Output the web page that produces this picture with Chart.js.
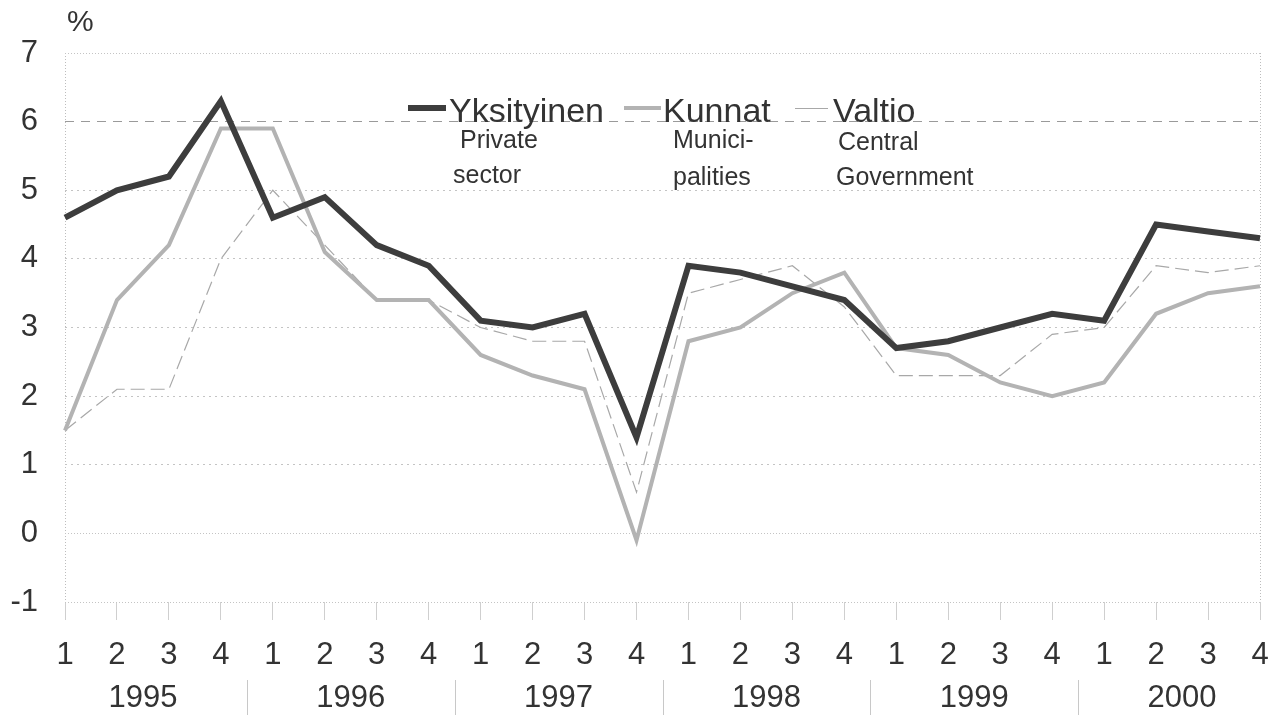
<!DOCTYPE html>
<html>
<head>
<meta charset="utf-8">
<script src="https://cdn.jsdelivr.net/npm/chart.js@4.4.1/dist/chart.umd.min.js"></script>
<style>
  html, body { margin: 0; padding: 0; background: #fff; }
  #wrap { position: relative; width: 1273px; height: 715px; font-family: "Liberation Sans", Arial, sans-serif; color: #333; }
  #chart { position: absolute; left: 0; top: 0; }
  .txt { position: absolute; white-space: nowrap; line-height: 1; }
  .main { font-size: 34px; }
  .sub { font-size: 25px; }
  .swatch { position: absolute; }
</style>
</head>
<body>
<div id="wrap">
  <canvas id="chart" width="1273" height="715"></canvas>
  <div class="txt" style="left:67px; top:6px; font-size:30px;">%</div>

  <div class="swatch" style="left:408px; top:105px; width:38px; height:6px; background:#3d3d3d;"></div>
  <div class="txt main" style="left:449px; top:93px;">Yksityinen</div>
  <div class="txt sub" style="left:460px; top:127px;">Private</div>
  <div class="txt sub" style="left:453px; top:162px;">sector</div>

  <div class="swatch" style="left:624px; top:106px; width:37px; height:4px; background:#b3b3b3;"></div>
  <div class="txt main" style="left:663px; top:93px;">Kunnat</div>
  <div class="txt sub" style="left:673px; top:127px;">Munici-</div>
  <div class="txt sub" style="left:673px; top:164px;">palities</div>

  <div class="swatch" style="left:795px; top:108px; width:33px; height:1px; background:#a8a8a8;"></div>
  <div class="txt main" style="left:833px; top:93px;">Valtio</div>
  <div class="txt sub" style="left:838px; top:129px;">Central</div>
  <div class="txt sub" style="left:836px; top:164px;">Government</div>
</div>
<script>
const years = ["1995", "1996", "1997", "1998", "1999", "2000"];
const quarters = ["1", "2", "3", "4"];

// Yksityinen / Private sector
const yksityinen = [4.6, 5.0, 5.2, 6.3, 4.6, 4.9, 4.2, 3.9, 3.1, 3.0, 3.2, 1.4,
                    3.9, 3.8, 3.6, 3.4, 2.7, 2.8, 3.0, 3.2, 3.1, 4.5, 4.4, 4.3];
// Kunnat / Municipalities
const kunnat = [1.5, 3.4, 4.2, 5.9, 5.9, 4.1, 3.4, 3.4, 2.6, 2.3, 2.1, -0.1,
                2.8, 3.0, 3.5, 3.8, 2.7, 2.6, 2.2, 2.0, 2.2, 3.2, 3.5, 3.6];
// Valtio / Central Government
const valtio = [1.5, 2.1, 2.1, 4.0, 5.0, 4.2, 3.4, 3.4, 3.0, 2.8, 2.8, 0.6,
                3.5, 3.7, 3.9, 3.3, 2.3, 2.3, 2.3, 2.9, 3.0, 3.9, 3.8, 3.9];

const yMin = -1;
const yMax = 7;

// quarter labels 1..4 repeated for each year
const labels = [];
years.forEach(() => quarters.forEach(q => labels.push(q)));
const lastIndex = labels.length - 1;

const tickFont = { family: "'Liberation Sans', Arial, sans-serif", size: 31 };

// thin separators between the year labels
const yearDividers = {
  id: "yearDividers",
  afterDraw(chart) {
    const xs = chart.scales.x;
    const ys = chart.scales.years;
    const ctx = chart.ctx;
    ctx.save();
    ctx.strokeStyle = "#c8c8c8";
    ctx.lineWidth = 1;
    for (let i = 1; i < years.length; i++) {
      const px = Math.round((xs.getPixelForValue(i * 4 - 1) + xs.getPixelForValue(i * 4)) / 2) + 0.5;
      ctx.beginPath();
      ctx.moveTo(px, ys.top + 5);
      ctx.lineTo(px, ys.bottom);
      ctx.stroke();
    }
    ctx.restore();
  }
};

const ctx = document.getElementById("chart");

new Chart(ctx, {
  type: "line",
  data: {
    labels: labels,
    datasets: [
      {
        label: "Yksityinen",
        data: yksityinen,
        borderColor: "#3d3d3d",
        borderWidth: 6,
        pointRadius: 0,
        tension: 0
      },
      {
        label: "Kunnat",
        data: kunnat,
        borderColor: "#b3b3b3",
        borderWidth: 4,
        pointRadius: 0,
        tension: 0
      },
      {
        label: "Valtio",
        data: valtio,
        borderColor: "#a8a8a8",
        borderWidth: 1.2,
        borderDash: [14, 6],
        pointRadius: 0,
        tension: 0
      }
    ]
  },
  options: {
    responsive: false,
    animation: false,
    layout: { padding: { top: 53, right: 13, bottom: 0, left: 0 } },
    plugins: {
      legend: { display: false },
      tooltip: { enabled: false }
    },
    scales: {
      x: {
        type: "category",
        offset: false,
        weight: 0,
        border: { display: false, dash: [1, 2] },
        grid: {
          drawOnChartArea: true,
          color: c => (c.index === 0 || c.index === lastIndex) ? "#bdbdbd" : "rgba(0,0,0,0)",
          tickColor: "#cfcfcf",
          tickLength: 18,
          tickBorderDash: []
        },
        ticks: {
          font: tickFont,
          color: "#333",
          padding: 17,
          autoSkip: false,
          maxRotation: 0
        },
        afterFit: s => { s.height = 73; s.paddingLeft = 0; s.paddingRight = 0; }
      },
      years: {
        type: "linear",
        position: "bottom",
        weight: 1,
        min: 0,
        max: lastIndex,
        border: { display: false },
        grid: { display: false, drawTicks: false },
        ticks: {
          font: tickFont,
          color: "#333",
          padding: 5,
          autoSkip: false,
          maxRotation: 0,
          callback: (v, i) => years[i]
        },
        afterBuildTicks: s => {
          s.ticks = years.map((y, i) => ({ value: i * 4 + 1.5 }));
        },
        afterFit: s => { s.height = 40; s.paddingLeft = 0; s.paddingRight = 0; }
      },
      y: {
        min: yMin,
        max: yMax,
        border: {
          display: false,
          dash: c => {
            const v = c.tick ? c.tick.value : null;
            if (v === 6) return [9, 7];
            if (v === 7 || v === 0 || v === -1) return [1, 2];
            return [2, 4];
          }
        },
        grid: {
          drawTicks: false,
          color: c => c.tick && c.tick.value === 6 ? "#9a9a9a" : "#c4c4c4",
          lineWidth: 1
        },
        ticks: {
          stepSize: 1,
          font: tickFont,
          color: "#333",
          padding: 27
        },
        afterFit: s => { s.width = 65; }
      }
    }
  },
  plugins: [yearDividers]
});
</script>
</body>
</html>
